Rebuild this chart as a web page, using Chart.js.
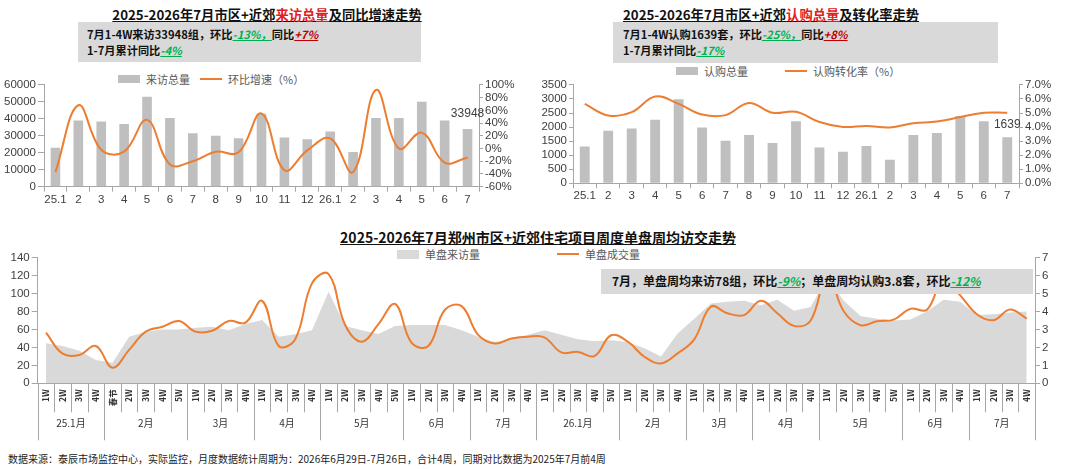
<!DOCTYPE html>
<html>
<head>
<meta charset="utf-8">
<script src="https://cdn.jsdelivr.net/npm/chart.js@4.4.1/dist/chart.umd.min.js"></script>
<style>
  body { margin: 0; background: #fff; font-family: "Noto Sans CJK SC", "Liberation Sans", sans-serif; }
  #page { position: relative; width: 1080px; height: 469px; overflow: hidden; background: #fff; }
  canvas { position: absolute; }
  .title { position: absolute; font-weight: bold; font-size: 13.3px; color: #111; text-decoration: underline; white-space: nowrap; transform: translateX(-50%); }
  .title .hl { color: #e02020; }
  .note { position: absolute; background: #d9d9d9; font-weight: bold; font-size: 11.2px; color: #111; line-height: 16px; white-space: nowrap; box-sizing: border-box; }
  .g { color: #00b050; font-style: italic; text-decoration: underline; }
  .r { color: #c00000; font-style: italic; text-decoration: underline; }
  .lg { position: absolute; font-size: 11px; color: #595959; white-space: nowrap; display: flex; align-items: center; }
  .lg .box { display: inline-block; width: 22px; height: 8px; margin-right: 6px; }
  .lg .ln { display: inline-block; width: 22px; height: 2px; background: #ed7d31; margin-right: 6px; }
  .foot { position: absolute; left: 8px; top: 451px; font-size: 10px; color: #222; white-space: nowrap; }
</style>
</head>
<body>
<div id="page">
  <div class="title" style="left:267px;top:5px">2025-2026年7月市区+近郊<span class="hl">来访总量</span>及同比增速走势</div>
  <div class="note" style="left:78px;top:22px;width:343px;height:40px;padding:4px 0 0 9px">7月1-4W来访33948组，环比<span class="g">-13%，</span>同比<span class="r">+7%</span><br>1-7月累计同比<span class="g">-4%</span></div>
  <div class="lg" style="left:118px;top:71px"><span class="box" style="background:#bfbfbf"></span>来访总量<span style="width:10px"></span><span class="ln"></span>环比增速（%）</div>

  <div class="title" style="left:771px;top:5px">2025-2026年7月市区+近郊<span class="hl">认购总量</span>及转化率走势</div>
  <div class="note" style="left:613px;top:22px;width:385px;height:41px;padding:4px 0 0 10px">7月1-4W认购1639套，环比<span class="g">-25%，</span>同比<span class="r">+8%</span><br>1-7月累计同比<span class="g">-17%</span></div>
  <div class="lg" style="left:676px;top:63px"><span class="box" style="background:#bfbfbf"></span>认购总量<span style="width:37px"></span><span class="ln"></span>认购转化率（%）</div>

  <div class="title" style="left:538px;top:227px;font-size:14px">2025-2026年7月郑州市区+近郊住宅项目周度单盘周均访交走势</div>
  <div class="lg" style="left:397px;top:246px"><span class="box" style="background:#d9d9d9;height:9px"></span>单盘来访量<span style="width:77px"></span><span class="ln"></span>单盘成交量</div>

  <canvas id="visitChart" width="540" height="134" style="left:0;top:76px"></canvas>
  <canvas id="subChart" width="540" height="134" style="left:540px;top:76px"></canvas>
  <canvas id="weekChart" width="1080" height="200" style="left:0;top:245px"></canvas>

  <div class="note" style="left:601px;top:269px;width:432px;height:25px;padding:4px 0 0 11px;font-size:12px">7月，单盘周均来访78组，环比<span class="g">-9%</span>；单盘周均认购3.8套，环比<span class="g">-12%</span></div>
  <div class="foot">数据来源：泰辰市场监控中心，实际监控，月度数据统计周期为：2026年6月29日-7月26日，合计4周，同期对比数据为2025年7月前4周</div>
</div>

<script>
// monthly charts
const months = ["25.1", "2", "3", "4", "5", "6", "7", "8", "9", "10", "11", "12", "26.1", "2", "3", "4", "5", "6", "7"];
const visits = [23000, 39000, 38500, 37000, 53000, 40500, 31500, 30000, 28500, 43000, 29000, 28000, 32500, 20500, 40500, 40500, 50000, 39000, 33948];
const visitsMoM = [-37, 68, -2, -5, 45, -25, -20, -5, -6, 55, -34, -3, 16, -37, 92, 0, 25, -22, -14];
const subs = [1307, 1867, 1948, 2263, 2987, 1983, 1517, 1715, 1435, 2205, 1272, 1120, 1330, 840, 1715, 1785, 2392, 2205, 1639];
const subRate = [5.65, 4.83, 5.06, 6.18, 5.65, 4.9, 4.85, 5.72, 5.02, 5.09, 4.36, 4.01, 4.08, 3.97, 4.27, 4.39, 4.71, 5.02, 5.02];

// weekly chart
const weekLabels = [
  "1W", "2W", "3W", "4W",
  "春节", "2W", "3W", "4W", "5W",
  "1W", "2W", "3W", "4W",
  "1W", "2W", "3W", "4W",
  "1W", "2W", "3W", "4W", "5W",
  "1W", "2W", "3W", "4W",
  "1W", "2W", "3W", "4W",
  "1W", "2W", "3W", "4W", "5W",
  "1W", "2W", "3W", "4W",
  "1W", "2W", "3W", "4W",
  "1W", "2W", "3W", "4W",
  "1W", "2W", "3W", "4W", "5W",
  "1W", "2W", "3W", "4W",
  "1W", "2W", "3W", "4W"
];
const monthLabels = ["25.1月", "2月", "3月", "4月", "5月", "6月", "7月", "26.1月", "2月", "3月", "4月", "5月", "6月", "7月"];
const monthWeeks = [4, 5, 4, 4, 5, 4, 4, 5, 4, 4, 4, 5, 4, 4];
const weekVisits = [
  44.6, 41.6, 36.4, 26, 23, 52, 57.5, 60, 60, 62, 63, 59, 66, 70.5, 52, 54.6, 59, 102, 64, 59,
  55, 64, 65, 65, 65, 59, 52, 46, 49, 54, 59, 54, 49, 47, 48, 46, 39, 30, 55.6, 72,
  89, 91, 92, 87, 93, 81, 85, 118, 92, 75, 72, 70, 71, 80, 93, 91, 76, 77, 79, 80
];
const weekDeals = [
  2.82, 1.65, 1.58, 2.08, 0.87, 1.86, 2.88, 3.15, 3.47, 2.88, 2.93, 3.47, 3.38, 4.59, 2.08, 2.47, 5.57, 6.09, 3.25, 2.32,
  3.3, 4.42, 2.25, 2.08, 4.1, 4.3, 2.7, 2.22, 2.5, 2.6, 2.55, 1.72, 1.75, 1.52, 2.68, 2.32, 1.48, 1.11, 1.67, 2.45,
  4.27, 3.9, 3.8, 4.6, 3.9, 3.2, 3.5, 6.0, 4.0, 3.24, 3.46, 3.55, 4.15, 4.1, 5.8, 4.9, 3.85, 3.52, 4.11, 3.61
];

const orange = "#ed7d31";
const barGray = "#bfbfbf";
const axisGray = "#a6a6a6";
const tickFont = { family: "'Liberation Sans', 'Noto Sans CJK SC', sans-serif", size: 11.5 };

const fixW = (w) => (scale) => { scale.width = w; };
const fixH = (h) => (scale) => { scale.height = h; };

function yAxis(pos, min, max, step, width, fmt, tl) {
  return {
    position: pos, min: min, max: max,
    afterFit: fixW(width),
    border: { display: true, color: axisGray },
    grid: { drawOnChartArea: false, tickLength: tl, color: axisGray },
    ticks: { stepSize: step, padding: 2, color: "#404040", font: tickFont, callback: fmt, autoSkip: false }
  };
}

// label above the last bar
const lastBarLabel = {
  id: "lastBarLabel",
  afterDatasetsDraw(chart, args, opts) {
    const meta = chart.getDatasetMeta(opts.index);
    const bar = meta.data[meta.data.length - 1];
    const ds = chart.data.datasets[opts.index];
    const ctx = chart.ctx;
    ctx.save();
    ctx.font = "12px 'Liberation Sans', sans-serif";
    ctx.fillStyle = "#404040";
    ctx.textAlign = "center";
    ctx.textBaseline = "bottom";
    ctx.fillText(String(ds.data[ds.data.length - 1]), bar.x, bar.y - opts.gap);
    ctx.restore();
  }
};

function monthChart(id, bars, line, yL, yR, top, xh, gap) {
  return new Chart(document.getElementById(id), {
    type: "bar",
    data: {
      labels: months,
      datasets: [
        { type: "line", data: line, yAxisID: "y1", borderColor: orange, borderWidth: 2, pointRadius: 0, tension: 0.4, order: 0 },
        { type: "bar", data: bars, yAxisID: "y", backgroundColor: barGray, barPercentage: 0.42, categoryPercentage: 1, order: 1 }
      ]
    },
    options: {
      responsive: false,
      animation: false,
      layout: { padding: { top: top, left: 0, right: 0, bottom: 0 } },
      plugins: { legend: { display: false }, tooltip: { enabled: false }, lastBarLabel: { index: 1, gap: gap } },
      scales: {
        x: {
          afterFit: fixH(xh),
          border: { display: true, color: axisGray },
          grid: { drawOnChartArea: false, tickLength: 5, color: axisGray, offset: true },
          ticks: { padding: 1, color: "#404040", font: tickFont, maxRotation: 0, autoSkip: false }
        },
        y: yL,
        y1: yR
      }
    },
    plugins: [lastBarLabel]
  });
}

monthChart("visitChart", visits, visitsMoM,
  yAxis("left", 0, 60000, 10000, 44, (v) => v, 6),
  yAxis("right", -60, 100, 20, 61, (v) => v + "%", 4),
  8, 23.3, 9);

monthChart("subChart", subs, subRate,
  yAxis("left", 0, 3500, 500, 33, (v) => v, 4),
  yAxis("right", 0, 7, 1, 61, (v) => v.toFixed(1) + "%", 4),
  7.3, 26.7, 7);

// week separators and month group labels under the weekly chart
const weekAxis = {
  id: "weekAxis",
  afterDraw(chart) {
    const x = chart.scales.x;
    const ctx = chart.ctx;
    const b = chart.chartArea.bottom;
    const half = (x.getPixelForValue(1) - x.getPixelForValue(0)) / 2;
    const bounds = new Set([0]);
    let acc = 0;
    monthWeeks.forEach((n) => { acc += n; bounds.add(acc); });
    ctx.save();
    ctx.strokeStyle = axisGray;
    ctx.lineWidth = 1;
    for (let i = 0; i <= weekLabels.length; i++) {
      const px = Math.round(x.getPixelForValue(0) - half + i * 2 * half) + 0.5;
      ctx.beginPath();
      ctx.moveTo(px, b);
      ctx.lineTo(px, b + (bounds.has(i) ? 57 : 29));
      ctx.stroke();
    }
    ctx.font = "10px 'Noto Sans CJK SC', sans-serif";
    ctx.fillStyle = "#333";
    ctx.textAlign = "center";
    ctx.textBaseline = "middle";
    let start = 0;
    monthLabels.forEach((m, k) => {
      const mid = (x.getPixelForValue(start) + x.getPixelForValue(start + monthWeeks[k] - 1)) / 2;
      ctx.fillText(m, mid, b + 40);
      start += monthWeeks[k];
    });
    ctx.restore();
  }
};

new Chart(document.getElementById("weekChart"), {
  type: "line",
  data: {
    labels: weekLabels,
    datasets: [
      { data: weekDeals, yAxisID: "y1", borderColor: orange, borderWidth: 2, pointRadius: 0, tension: 0.4, order: 0 },
      { data: weekVisits, yAxisID: "y", fill: "origin", backgroundColor: "#d9d9d9", borderWidth: 0, pointRadius: 0, tension: 0, order: 1 }
    ]
  },
  options: {
    responsive: false,
    animation: false,
    layout: { padding: { top: 12.7, left: 0, right: 0, bottom: 0 } },
    plugins: { legend: { display: false }, tooltip: { enabled: false } },
    scales: {
      x: {
        offset: true,
        afterFit: fixH(61.7),
        border: { display: true, color: axisGray },
        grid: { display: false, drawTicks: false },
        ticks: { padding: 6, color: "#333", font: { family: "'Noto Sans CJK SC', sans-serif", size: 8.5, weight: "bold" }, minRotation: 90, maxRotation: 90, autoSkip: false }
      },
      y: yAxis("left", 0, 140, 20, 37.7, (v) => v, 6),
      y1: yAxis("right", 0, 7, 1, 45, (v) => v, 5)
    }
  },
  plugins: [weekAxis]
});
</script>
</body>
</html>
